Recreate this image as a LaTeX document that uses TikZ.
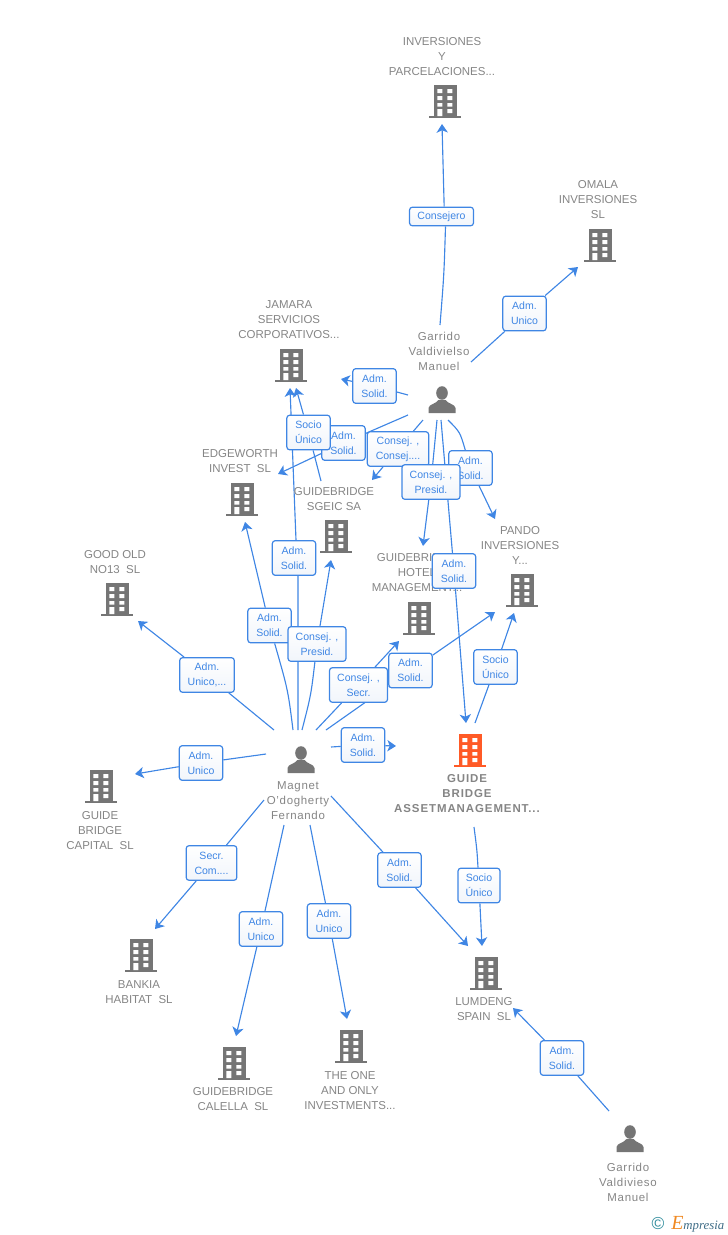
\documentclass[tikz,border=0pt]{standalone}
\usepackage{fontspec}
\setmainfont{Liberation Sans}
\newfontfamily\logofont{Liberation Serif}
\usetikzlibrary{arrows.meta,backgrounds}

\definecolor{iconGray}{HTML}{757575}
\definecolor{iconRed}{HTML}{FF5A26}
\definecolor{textGray}{HTML}{858585}
\definecolor{linkBlue}{HTML}{3F86E4}
\definecolor{boxBottom}{HTML}{F1F5FB}
\definecolor{logoTeal}{HTML}{2F8C9C}
\definecolor{logoOrange}{HTML}{F08A24}
\definecolor{logoBlue}{HTML}{3E6C86}

\tikzset{
  orgtext/.style={text=textGray, align=center, inner sep=0pt, font=\fontsize{8.6pt}{11.25pt}\selectfont},
  nametext/.style={orgtext, font=\fontsize{8.6pt}{11.25pt}\selectfont\addfontfeatures{LetterSpace=6}},
  maintext/.style={orgtext, font=\fontsize{8.6pt}{11.25pt}\selectfont\bfseries\addfontfeatures{LetterSpace=8}},
  linkbox/.style={draw=linkBlue, line width=0.9pt, rounded corners=2.2pt, top color=white, bottom color=boxBottom,
    text=linkBlue, align=center, inner sep=0pt, minimum width=32.5pt, minimum height=26pt,
    font=\fontsize{7.9pt}{11.25pt}\selectfont},
  widebox/.style={linkbox, minimum width=43.5pt},
  link/.style={draw=linkBlue, line width=0.85pt, -{Stealth[length=6.5pt,width=8.5pt,inset=1.8pt]}},
  pics/office/.style={code={
    \fill[#1] (-11.5,-33) rectangle (11.5,0);
    \fill[#1] (-16,-2) rectangle (16,0);
    \fill[white] (-7.7,-29) rectangle (-2.7,-25) (2.3,-29) rectangle (7.3,-25);
    \fill[white] (-7.7,-22) rectangle (-2.7,-18) (2.3,-22) rectangle (7.3,-18);
    \fill[white] (-7.7,-15) rectangle (-2.7,-11.5) (2.3,-15) rectangle (7.3,-11.5);
    \fill[white] (-7.7,-9) rectangle (-2.7,-2) (2.3,-9) rectangle (7.3,-5);
  }},
  pics/person/.style={code={
    \fill[iconGray] (0,-20) ellipse (5.8 and 6.8);
    \fill[iconGray] (-13.5,0) -- (-13.5,-5) .. controls (-13,-9) and (-6,-9) .. (-3.5,-13)
      -- (3.5,-13) .. controls (6,-9) and (13,-9) .. (13.5,-5) -- (13.5,0) -- cycle;
  }},
}

\begin{document}
\begin{tikzpicture}[x=0.75pt, y=-0.75pt]
  \useasboundingbox (0,0) rectangle (728,1235);

  % companies
  \pic at (445,118) {office=iconGray};
  \node[orgtext] (inversiones) at (442,57) {INVERSIONES\\Y\\PARCELACIONES...};
  \pic at (600,262) {office=iconGray};
  \node[orgtext] (omala) at (598,200) {OMALA\\INVERSIONES\\SL};
  \pic at (291,382) {office=iconGray};
  \node[orgtext] (jamara) at (289,320) {JAMARA\\SERVICIOS\\CORPORATIVOS...};
  \pic at (242,516) {office=iconGray};
  \node[orgtext] (edgeworth) at (240,461) {EDGEWORTH\\INVEST~~SL};
  \pic at (336,553) {office=iconGray};
  \node[orgtext] (sgeic) at (334,499) {GUIDEBRIDGE\\SGEIC SA};
  \pic at (117,616) {office=iconGray};
  \node[orgtext] (goodold) at (115,562) {GOOD OLD\\NO13~~SL};
  \pic at (419,635) {office=iconGray};
  \node[orgtext] (hotel) at (417,573) {GUIDEBRIDGE\\HOTEL\\MANAGEMENT...};
  \pic at (522,607) {office=iconGray};
  \node[orgtext] (pando) at (520,545) {PANDO\\INVERSIONES\\Y...};
  \pic at (470,767) {office=iconRed};
  \node[maintext] (assetmgmt) at (467,794) {GUIDE\\BRIDGE\\ASSETMANAGEMENT...};
  \pic at (101,803) {office=iconGray};
  \node[orgtext] (capital) at (100,831) {GUIDE\\BRIDGE\\CAPITAL~~SL};
  \pic at (141,972) {office=iconGray};
  \node[orgtext] (bankia) at (139,992) {BANKIA\\HABITAT~~SL};
  \pic at (486,990) {office=iconGray};
  \node[orgtext] (lumdeng) at (484,1009) {LUMDENG\\SPAIN~~SL};
  \pic at (234,1080) {office=iconGray};
  \node[orgtext] (calella) at (233,1099) {GUIDEBRIDGE\\CALELLA~~SL};
  \pic at (351,1063) {office=iconGray};
  \node[orgtext] (theone) at (350,1091) {THE ONE\\AND ONLY\\INVESTMENTS...};

  % people
  \pic at (442,413) {person};
  \node[nametext] (garrido) at (439,351) {Garrido\\Valdivielso\\Manuel};
  \pic at (301,773) {person};
  \node[nametext] (magnet) at (298,801) {Magnet\\O'dogherty\\Fernando};
  \pic at (630,1152) {person};
  \node[nametext] (garridob) at (628,1182) {Garrido\\Valdivieso\\Manuel};

  % link labels
  \node[linkbox, minimum width=48pt, minimum height=14pt] (consejero) at (441.5,216.5) {Consejero};
  \node[linkbox] (omalaL) at (524.5,313.5) {Adm.\\Unico};
  \node[linkbox] (jamaraL) at (374.5,386) {Adm.\\Solid.};
  \node[linkbox] (edgeL) at (343.5,443) {Adm.\\Solid.};
  \node[linkbox] (sgeicL) at (308.5,432.5) {Socio\\Único};
  \node[widebox, minimum width=46pt] (sgeicM) at (398,449) {Consej. ,\\Consej....};
  \node[linkbox] (pandoG) at (470.5,468) {Adm.\\Solid.};
  \node[widebox] (hotelG) at (431,482) {Consej. ,\\Presid.};
  \node[linkbox] (jamaraM) at (294,558) {Adm.\\Solid.};
  \node[linkbox] (assetG) at (454,571) {Adm.\\Solid.};
  \node[linkbox] (edgeM) at (269.5,625.5) {Adm.\\Solid.};
  \node[widebox] (sgeicP) at (317,644) {Consej. ,\\Presid.};
  \node[linkbox] (pandoS) at (495.5,667) {Socio\\Único};
  \node[linkbox] (pandoM) at (410.5,670.5) {Adm.\\Solid.};
  \node[widebox] (hotelM) at (358.5,685) {Consej. ,\\Secr.};
  \node[widebox, minimum width=41pt] (goodL) at (207,675) {Adm.\\Unico,...};
  \node[linkbox] (assetM) at (363,745) {Adm.\\Solid.};
  \node[linkbox] (capitalL) at (201,763) {Adm.\\Unico};
  \node[linkbox, minimum width=38pt] (bankiaL) at (211.5,863) {Secr.\\Com....};
  \node[linkbox] (calellaL) at (261,929) {Adm.\\Unico};
  \node[linkbox] (theoneL) at (329,921) {Adm.\\Unico};
  \node[linkbox] (lumdengM) at (399.5,870) {Adm.\\Solid.};
  \node[linkbox, minimum width=31.5pt] (lumdengS) at (479,885.5) {Socio\\Único};
  \node[linkbox] (lumdengG) at (562,1058) {Adm.\\Solid.};

  % logo
  \node[inner sep=0pt, text=logoTeal, font=\fontsize{13pt}{13pt}\selectfont] (copyr) at (658,1223.5) {©};
  \node[inner sep=0pt, anchor=west, text=logoBlue, font=\logofont\itshape\fontsize{9.6pt}{12pt}\selectfont] (logo) at (671,1224)
    {{\color{logoOrange}\fontsize{15pt}{15pt}\selectfont E}mpresia};

  % free ends of the links
  \coordinate (gaUp) at (440,325);
  \coordinate (gaRight) at (471,362);
  \coordinate (gaLeft) at (408,395);
  \coordinate (gaLow) at (408,415);
  \coordinate (gaA) at (423,420);
  \coordinate (gaB) at (437,420);
  \coordinate (gaC) at (441,420);
  \coordinate (gaD) at (448,420);
  \coordinate (sgeicTop) at (321,481);
  \coordinate (maA) at (274,730);
  \coordinate (maB) at (293,730);
  \coordinate (maC) at (298,730);
  \coordinate (maD) at (302,730);
  \coordinate (maE) at (316,730);
  \coordinate (maF) at (326,730);
  \coordinate (maG) at (331,747);
  \coordinate (maH) at (266,754);
  \coordinate (maI) at (264,800);
  \coordinate (maJ) at (284,825);
  \coordinate (maK) at (310,825);
  \coordinate (maL) at (331,796);
  \coordinate (asUp) at (475,723);
  \coordinate (asDown) at (474,827);
  \coordinate (gbUp) at (609,1111);
  \coordinate (toInv) at (442,124);
  \coordinate (toOmala) at (578,267);
  \coordinate (toJamaraA) at (341,379);
  \coordinate (toJamaraB) at (290,388);
  \coordinate (toJamaraC) at (296,388);
  \coordinate (toEdgeA) at (278,474);
  \coordinate (toEdgeB) at (245,522);
  \coordinate (toSgeicA) at (372,480);
  \coordinate (toSgeicB) at (331,560);
  \coordinate (toHotelA) at (423,546);
  \coordinate (toHotelB) at (399,641);
  \coordinate (toPandoA) at (495,519);
  \coordinate (toPandoB) at (495,612);
  \coordinate (toPandoC) at (514,613);
  \coordinate (toAssetA) at (466,723);
  \coordinate (toAssetB) at (396,746);
  \coordinate (toGood) at (138,621);
  \coordinate (toCapital) at (135,774);
  \coordinate (toBankia) at (155,929);
  \coordinate (toCalella) at (236,1036);
  \coordinate (toTheone) at (347,1019);
  \coordinate (toLumdengA) at (468,946);
  \coordinate (toLumdengB) at (482,946);
  \coordinate (toLumdengC) at (513,1008);

  % links
  \begin{scope}[on background layer]
    \draw[link] (gaUp) .. controls (444,275) .. ([xshift=3pt]consejero.south) ([xshift=2pt]consejero.north) -- (toInv);
    \draw[link] (gaRight) -- (omalaL) -- (toOmala);
    \draw[link] (gaLeft) -- (jamaraL) -- (toJamaraA);
    \draw[link] (gaLow) -- (edgeL) -- (toEdgeA);
    \draw[link] (gaA) -- (sgeicM) -- (toSgeicA);
    \draw[link] (gaB) -- (hotelG) -- (toHotelA);
    \draw[link] (gaC) -- (assetG) -- (toAssetA);
    \draw[link] (gaD) .. controls (460,432) .. (pandoG) -- (toPandoA);
    \draw[link] (sgeicTop) -- (sgeicL) -- (toJamaraC);
    \draw[link] (maC) -- ([xshift=3pt]jamaraM.south) ([xshift=1.5pt]jamaraM.north) -- (toJamaraB);
    \draw[link] (maB) .. controls (288,690) .. (edgeM) -- (toEdgeB);
    \draw[link] (maD) .. controls (311,695) .. (sgeicP) -- (toSgeicB);
    \draw[link] (maE) -- (hotelM) -- (toHotelB);
    \draw[link] (maF) -- (pandoM) -- (toPandoB);
    \draw[link] (maG) -- (assetM) -- (toAssetB);
    \draw[link] (asUp) -- (pandoS) -- (toPandoC);
    \draw[link] (maA) -- (goodL) -- (toGood);
    \draw[link] (maH) -- (capitalL) -- (toCapital);
    \draw[link] (maI) -- (bankiaL) -- (toBankia);
    \draw[link] (maJ) -- (calellaL) -- (toCalella);
    \draw[link] (maK) -- (theoneL) -- (toTheone);
    \draw[link] (maL) -- (lumdengM) -- (toLumdengA);
    \draw[link] (asDown) .. controls (477,850) .. (lumdengS) -- (toLumdengB);
    \draw[link] (gbUp) -- (lumdengG) -- (toLumdengC);
  \end{scope}
\end{tikzpicture}
\end{document}
